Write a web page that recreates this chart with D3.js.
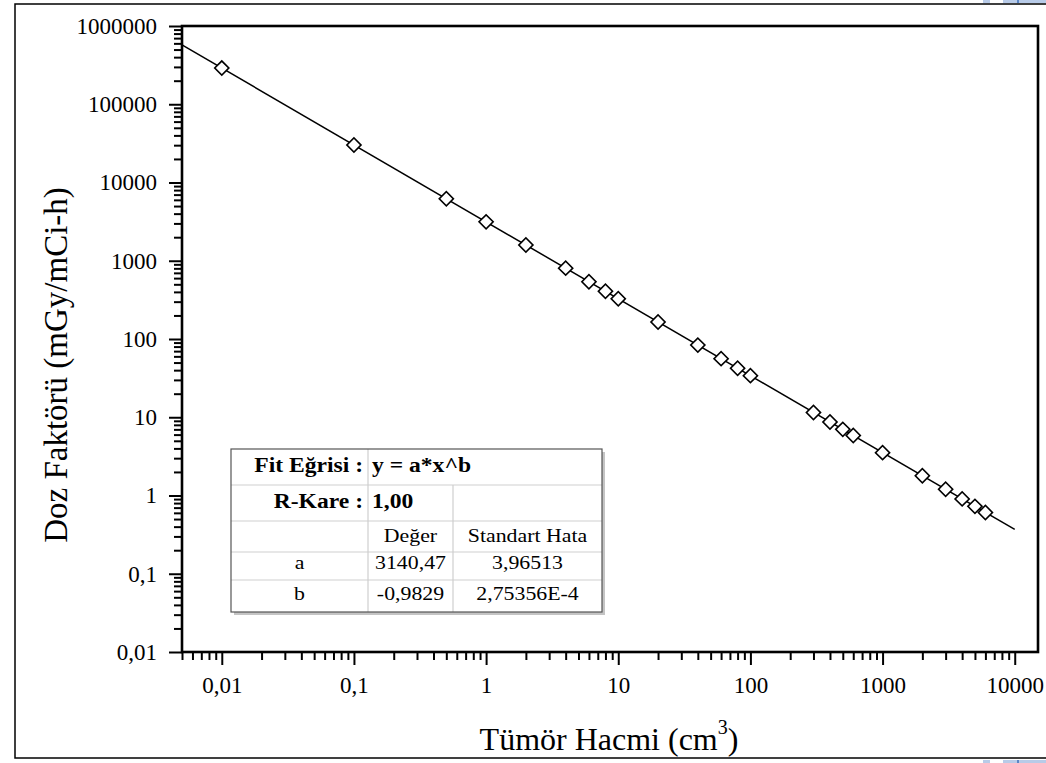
<!DOCTYPE html>
<html>
<head>
<meta charset="utf-8">
<script src="https://cdn.jsdelivr.net/npm/d3@7"></script>
<style>
  body { margin: 0; background: #fff; }
  text { font-family: "Liberation Serif", "Times New Roman", serif; fill: #000; }
</style>
</head>
<body>
<script>
var w = 1046;
var h = 763;

// Measured points (tumour volume in cm3, dose factor in mGy/mCi-h)
var volume = [0.01, 0.1, 0.5, 1, 2, 4, 6, 8, 10, 20, 40, 60, 80, 100,
  300, 400, 500, 600, 1000, 2000, 3000, 4000, 5000, 6000];
var doseFactor = [290000, 30200, 6200, 3140, 1590, 804, 540, 407, 327, 165, 83.6, 56.1, 42.3, 34,
  11.5, 8.7, 7, 5.84, 3.53, 1.79, 1.2, 0.905, 0.727, 0.607];

// Fit line y = a*x^b, straight on log-log, so its two ends are enough
var fitX = [0.005, 10000];
var fitY = [573000, 0.368];

// Tick labels
var xTicks = [0.01, 0.1, 1, 10, 100, 1000, 10000];
var yTicks = [0.01, 0.1, 1, 10, 100, 1000, 10000, 100000, 1000000];

// Fit table rows
var tableHeader = ["", "Değer", "Standart Hata"];
var tableRows = [
  ["a", "3140,47", "3,96513"],
  ["b", "-0,9829", "2,75356E-4"]
];

var plotL = 182, plotR = 1038, plotT = 26, plotB = 652;

var fmt = function(d) { return String(d).replace(".", ","); };

function minors(lo, hi) {
  var out = [];
  for (var e = -3; e <= 6; e++) {
    for (var m = 2; m <= 9; m++) {
      var v = m * Math.pow(10, e);
      if (v >= lo * 0.999 && v <= hi) out.push(v);
    }
  }
  return out;
}

var xScale = d3.scaleLog()
  .domain([0.005, 15000])
  .range([plotL, plotR]);

var yScale = d3.scaleLog()
  .domain([0.01, 1000000])
  .range([plotB, plotT]);

var svg = d3.select("body")
  .append("svg")
  .attr("width", w)
  .attr("height", h);

// Page frame
svg.append("rect")
  .attr("x", 15).attr("y", 4)
  .attr("width", 1200).attr("height", 754)
  .attr("fill", "none")
  .attr("stroke", "#000")
  .attr("stroke-width", 1.5);

// little blue bits of the page behind, top and bottom right
[[983, 7], [1003, 43]].forEach(function(b) {
  svg.append("rect").attr("x", b[0]).attr("y", 0).attr("width", b[1]).attr("height", 3).attr("fill", "#b8cbe8");
  svg.append("rect").attr("x", b[0]).attr("y", 760).attr("width", b[1]).attr("height", 3).attr("fill", "#b8cbe8");
});
svg.append("rect").attr("x", 1017).attr("y", 0).attr("width", 2).attr("height", 3).attr("fill", "#5b86c6");
svg.append("rect").attr("x", 1017).attr("y", 760).attr("width", 2).attr("height", 3).attr("fill", "#5b86c6");

// Fit line
var line = d3.line()
  .x(function(d) { return xScale(d[0]); })
  .y(function(d) { return yScale(d[1]); });

svg.append("path")
  .datum(d3.zip(fitX, fitY))
  .attr("d", line)
  .attr("fill", "none")
  .attr("stroke", "#000")
  .attr("stroke-width", 1.5);

// Diamond markers
svg.selectAll("path.pt")
  .data(d3.zip(volume, doseFactor))
  .enter()
  .append("path")
  .attr("class", "pt")
  .attr("d", d3.symbol().type(d3.symbolSquare).size(100))
  .attr("transform", function(d) {
    return "translate(" + xScale(d[0]) + "," + yScale(d[1]) + ") rotate(45)";
  })
  .attr("fill", "#fff")
  .attr("stroke", "#000")
  .attr("stroke-width", 1.6);

// Axes: minor ticks first, then major ticks with labels
function styleAxis(g, fontSize) {
  g.attr("font-family", "Liberation Serif, serif").attr("font-size", fontSize);
  g.select(".domain").remove();
  g.selectAll(".tick line").attr("stroke", "#000").attr("stroke-width", 2);
  g.selectAll(".tick text")
    .attr("fill", "#000")
    .style("font-size", fontSize + "px")
    .style("font-family", "'Liberation Serif', serif");
}

svg.append("g")
  .attr("transform", "translate(0," + plotB + ")")
  .call(d3.axisBottom(xScale).tickValues(minors(0.005, 15000)).tickSize(8).tickFormat(""))
  .call(styleAxis, 23);

svg.append("g")
  .attr("transform", "translate(0," + plotB + ")")
  .call(d3.axisBottom(xScale).tickValues(xTicks).tickSize(13).tickPadding(12).tickFormat(fmt))
  .call(styleAxis, 23);

svg.append("g")
  .attr("transform", "translate(" + plotL + ",0)")
  .call(d3.axisLeft(yScale).tickValues(minors(0.01, 1000000)).tickSize(8).tickFormat(""))
  .call(styleAxis, 23);

svg.append("g")
  .attr("transform", "translate(" + plotL + ",0)")
  .call(d3.axisLeft(yScale).tickValues(yTicks).tickSize(13).tickPadding(12).tickFormat(fmt))
  .call(styleAxis, 23);

// Plot frame
svg.append("rect")
  .attr("x", plotL).attr("y", plotT)
  .attr("width", plotR - plotL).attr("height", plotB - plotT)
  .attr("fill", "none")
  .attr("stroke", "#000")
  .attr("stroke-width", 2.6);

// Axis titles
svg.append("text")
  .attr("transform", "translate(67,365) rotate(-90)")
  .attr("text-anchor", "middle")
  .style("font-size", "33px")
  .text("Doz Faktörü (mGy/mCi-h)");

var xt = svg.append("text")
  .attr("x", 609)
  .attr("y", 750)
  .attr("text-anchor", "middle")
  .style("font-size", "32px");
xt.append("tspan").text("Tümör Hacmi (cm");
xt.append("tspan").attr("dy", -16).style("font-size", "20px").text("3");
xt.append("tspan").attr("dy", 16).text(")");

// Fit table
var colX = [231, 368, 453, 602];
var rowY = [449, 485, 521, 552, 580, 612];
var tbl = svg.append("g");

tbl.append("rect")
  .attr("x", colX[0] + 3).attr("y", rowY[0] + 3)
  .attr("width", colX[3] - colX[0]).attr("height", rowY[5] - rowY[0])
  .attr("fill", "#c4c4c4");
tbl.append("rect")
  .attr("x", colX[0]).attr("y", rowY[0])
  .attr("width", colX[3] - colX[0]).attr("height", rowY[5] - rowY[0])
  .attr("fill", "#fff");

[1, 2, 3, 4].forEach(function(i) {
  tbl.append("line")
    .attr("x1", colX[0]).attr("x2", colX[3])
    .attr("y1", rowY[i]).attr("y2", rowY[i])
    .attr("stroke", "#cfcfcf").attr("stroke-width", 1.2);
});
tbl.append("line")
  .attr("x1", colX[1]).attr("x2", colX[1])
  .attr("y1", rowY[0]).attr("y2", rowY[5])
  .attr("stroke", "#cfcfcf").attr("stroke-width", 1.2);
tbl.append("line")
  .attr("x1", colX[2]).attr("x2", colX[2])
  .attr("y1", rowY[1]).attr("y2", rowY[5])
  .attr("stroke", "#cfcfcf").attr("stroke-width", 1.2);

tbl.append("rect")
  .attr("x", colX[0]).attr("y", rowY[0])
  .attr("width", colX[3] - colX[0]).attr("height", rowY[5] - rowY[0])
  .attr("fill", "none")
  .attr("stroke", "#555").attr("stroke-width", 1.2);

function cell(txt, x, y, anchor, bold) {
  tbl.append("text")
    .attr("transform", "translate(" + x + "," + y + ") scale(1.18,1)")
    .attr("text-anchor", anchor)
    .style("font-size", bold ? "20px" : "18.5px")
    .style("font-weight", bold ? "bold" : "normal")
    .text(txt);
}

cell("Fit Eğrisi :", 363, 472, "end", true);
cell("y = a*x^b", 372, 472, "start", true);
cell("R-Kare :", 363, 508, "end", true);
cell("1,00", 372, 508, "start", true);

var mids = [(colX[0] + colX[1]) / 2, (colX[1] + colX[2]) / 2, (colX[2] + colX[3]) / 2];
tableHeader.forEach(function(t, j) { cell(t, mids[j], 542, "middle", false); });
tableRows.forEach(function(r, i) {
  r.forEach(function(t, j) { cell(t, mids[j], [569, 600][i], "middle", false); });
});
</script>
</body>
</html>
